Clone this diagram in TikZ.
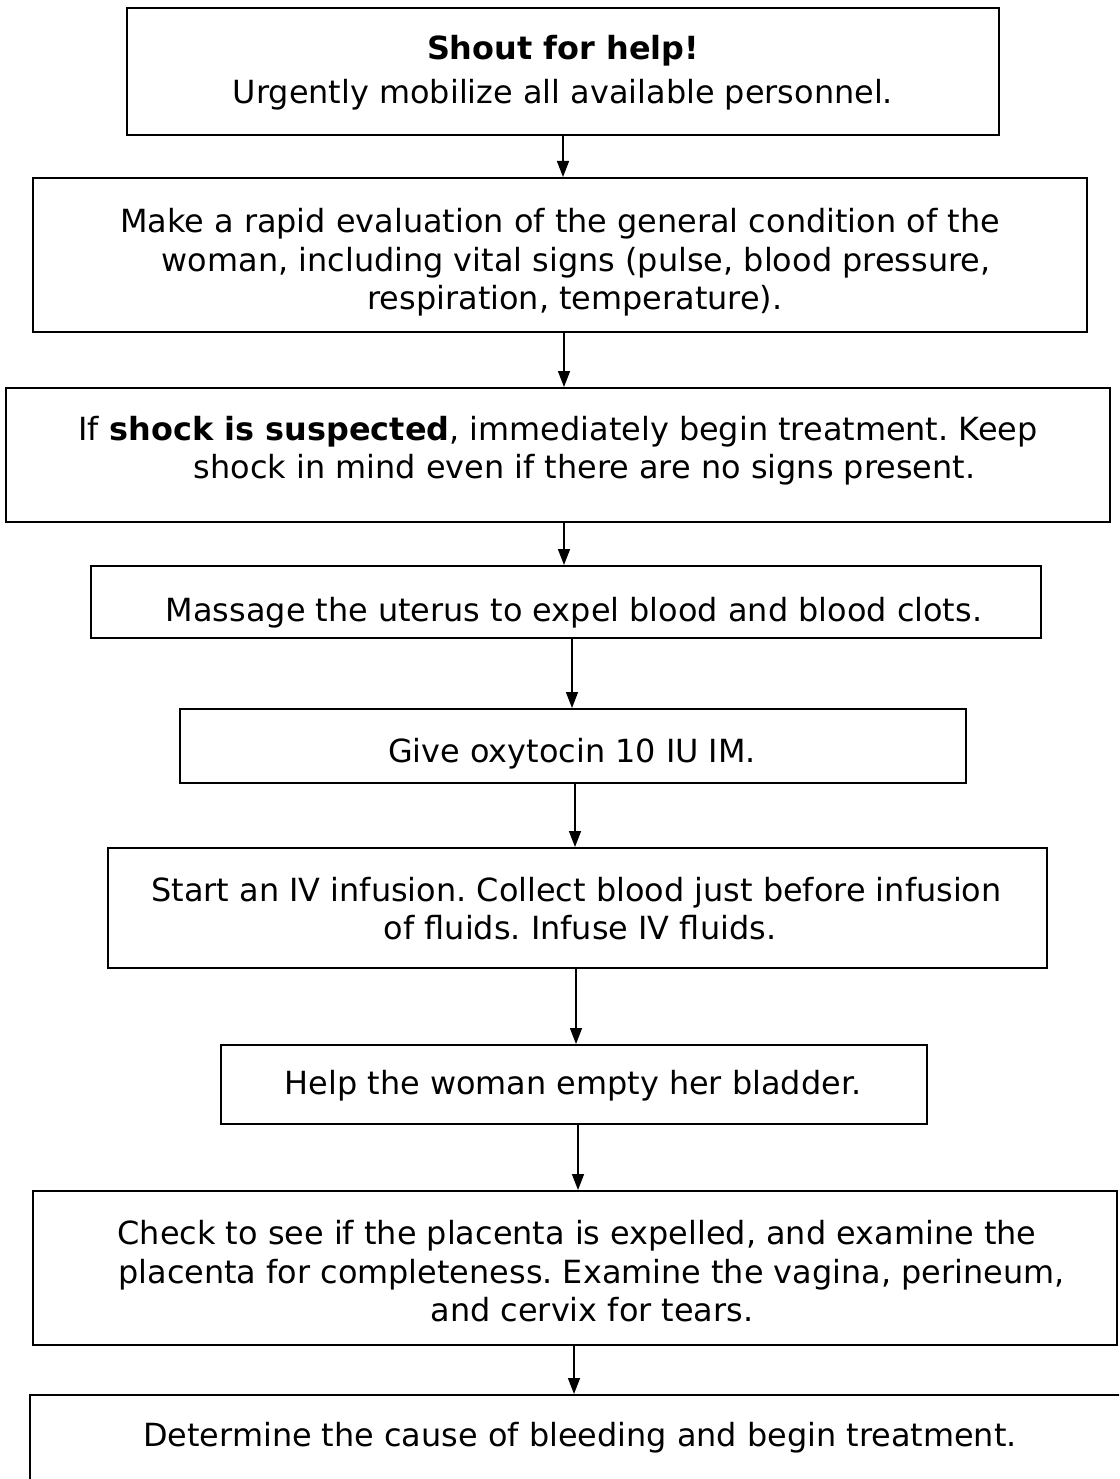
\documentclass[tikz,border=0pt]{standalone}
\usepackage{fontspec}
\setmainfont{DejaVu Sans}
\usetikzlibrary{arrows.meta}
\begin{document}
\frenchspacing
\begin{tikzpicture}[x=1pt,y=-1pt,
  box/.style={draw=black, line width=2pt, inner sep=0pt, outer sep=0pt},
  txt/.style={align=center, inner sep=0pt, font=\fontsize{31.9}{38.5}\selectfont\frenchspacing},
  arr/.style={line width=1.5pt, shorten >=1pt, -{Triangle[length=16pt,width=12pt]}}]
\useasboundingbox (0,0) rectangle (1119,1479);
\begin{scope}
\clip (0,0) rectangle (1119,1479);
% boxes
\node[box, minimum width=872pt,  minimum height=127pt] (b1) at (563,71.5) {};
\node[box, minimum width=1054pt, minimum height=154pt] (b2) at (560,255) {};
\node[box, minimum width=1104pt, minimum height=134pt] (b3) at (558,455) {};
\node[box, minimum width=950pt,  minimum height=72pt]  (b4) at (566,602) {};
\node[box, minimum width=786pt,  minimum height=74pt]  (b5) at (573,746) {};
\node[box, minimum width=939pt,  minimum height=120pt] (b6) at (577.5,908) {};
\node[box, minimum width=706pt,  minimum height=79pt]  (b7) at (574,1084.5) {};
\node[box, minimum width=1084pt, minimum height=154pt] (b8) at (575,1268) {};
\node[box, minimum width=1110pt, minimum height=105pt] (b9) at (585,1447.5) {};
\end{scope}
% texts
\node[txt] (t1) at (563,73.6) {\textbf{Shout for help!}\strut\\[5.5pt]Urgently mobilize all available personnel.\strut};
\node[txt] (t2) at (560,263.3) {Make a rapid evaluation of the general condition of the\strut\\\hspace*{32pt}woman, including vital signs (pulse, blood pressure,\strut\\\hspace*{30pt}respiration, temperature).\strut};
\node[txt] (t3) at (558,451.6) {If \textbf{shock is suspected}, immediately begin treatment. Keep\strut\\\hspace*{53pt}shock in mind even if there are no signs present.\strut};
\node[txt] (t4) at (574,613.6) {Massage the uterus to expel blood and blood clots.\strut};
\node[txt] (t5) at (572,754.6) {Give oxytocin 10 IU IM.\strut};
\node[txt] (t6) at (576.5,912.6) {Start an IV infusion. Collect blood just before infusion\strut\\\hspace*{7pt}of fluids. Infuse IV fluids.\strut};
\node[txt] (t7) at (573,1086.6) {Help the woman empty her bladder.\strut};
\node[txt] (t8) at (577,1275.6) {Check to see if the placenta is expelled, and examine the\strut\\\hspace*{29pt}placenta for completeness. Examine the vagina, perineum,\strut\\\hspace*{30pt}and cervix for tears.\strut};
\node[txt] (t9) at (580,1438.6) {Determine the cause of bleeding and begin treatment.\strut};
% connectors
\draw[arr] (b1.south) -- (b1.south |- b2.north);
\draw[arr] ([xshift=4pt]b2.south) -- ([xshift=4pt]b2.south |- b3.north);
\draw[arr] ([xshift=6pt]b3.south) -- ([xshift=6pt]b3.south |- b4.north);
\draw[arr] ([xshift=6pt]b4.south) -- ([xshift=6pt]b4.south |- b5.north);
\draw[arr] ([xshift=2pt]b5.south) -- ([xshift=2pt]b5.south |- b6.north);
\draw[arr] ([xshift=-1.5pt]b6.south) -- ([xshift=-1.5pt]b6.south |- b7.north);
\draw[arr] ([xshift=4pt]b7.south) -- ([xshift=4pt]b7.south |- b8.north);
\draw[arr] ([xshift=-1pt]b8.south) -- ([xshift=-1pt]b8.south |- b9.north);
\end{tikzpicture}
\end{document}
